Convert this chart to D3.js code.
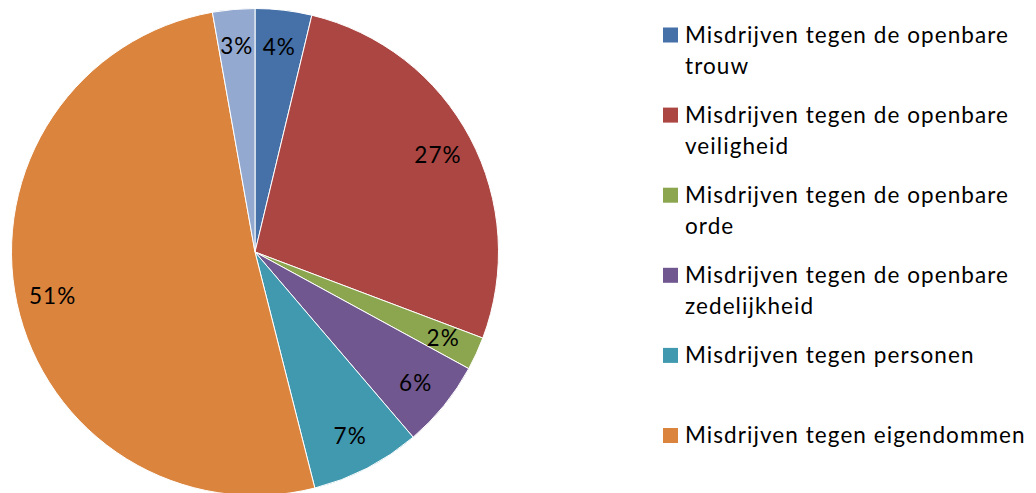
<!DOCTYPE html>
<html>
<head>
<meta charset="utf-8">
<script src="https://cdn.jsdelivr.net/npm/d3@7"></script>
<style>
  html, body { margin: 0; padding: 0; background: #fff; }
  svg { display: block; }
  text { font-family: Lato, "Open Sans", sans-serif; fill: #000; }
</style>
</head>
<body>
<svg id="chart" width="1036" height="493"></svg>
<script>
// ---- data ----
const categories = [
  "Misdrijven tegen de openbare trouw",
  "Misdrijven tegen de openbare veiligheid",
  "Misdrijven tegen de openbare orde",
  "Misdrijven tegen de openbare zedelijkheid",
  "Misdrijven tegen personen",
  "Misdrijven tegen eigendommen",
  ""
];
const legendLines = [
  ["Misdrijven tegen de openbare", "trouw"],
  ["Misdrijven tegen de openbare", "veiligheid"],
  ["Misdrijven tegen de openbare", "orde"],
  ["Misdrijven tegen de openbare", "zedelijkheid"],
  ["Misdrijven tegen personen"],
  ["Misdrijven tegen eigendommen"]
];
const values = [3.75, 27.0, 2.2, 5.8, 7.3, 51.15, 2.8];
const labels = ["4%", "27%", "2%", "6%", "7%", "51%", "3%"];
const colors = ["#4571A8", "#AB4643", "#8BA64F", "#71578F", "#4199B0", "#DA843D", "#93A9CF"];

// ---- layout ----
const svg = d3.select("#chart");
const cx = 255, cy = 252, R = 243.5, labelR = 207;
const fontSize = 22.5;

const pie = d3.pie().sort(null).value(d => d.v);
const data = values.map((v, i) => ({ v, i }));
const arcs = pie(data);
const arc = d3.arc().innerRadius(0).outerRadius(R);
const labelArc = d3.arc().innerRadius(labelR).outerRadius(labelR);

const g = svg.append("g").attr("transform", `translate(${cx},${cy})`);
g.selectAll("path.slice").data(arcs).join("path")
  .attr("class", "slice")
  .attr("d", arc)
  .attr("fill", d => colors[d.data.i])
  .attr("stroke", "#fff")
  .attr("stroke-width", 1);

g.selectAll("text.lbl").data(arcs).join("text")
  .attr("class", "lbl")
  .attr("transform", d => `translate(${labelArc.centroid(d)})`)
  .attr("text-anchor", "middle")
  .attr("dy", "0.36em")
  .style("font-size", fontSize + "px")
  .text(d => labels[d.data.i]);

// legend
const lg = svg.append("g");
const lx = 663, ly0 = 27.5, lstep = 80.1, sq = 15, tx = 685, base1 = 15, lineH = 31;
const targetW = 323;
legendLines.forEach((lines, i) => {
  const y = ly0 + i * lstep;
  lg.append("rect").attr("x", lx).attr("y", y).attr("width", sq).attr("height", sq)
    .attr("fill", colors[i]);
  lines.forEach((ln, j) => {
    lg.append("text").attr("class", "leg")
      .attr("x", tx).attr("y", y + base1 + j * lineH)
      .style("font-size", fontSize + "px")
      .text(ln);
  });
});
// letter spacing to match reference text width
const probe = lg.select("text.leg").node();
const w = probe.getComputedTextLength();
const n = probe.textContent.length;
const ls = (targetW - w) / (n - 1);
svg.selectAll("text").style("letter-spacing", ls + "px");
</script>
</body>
</html>
